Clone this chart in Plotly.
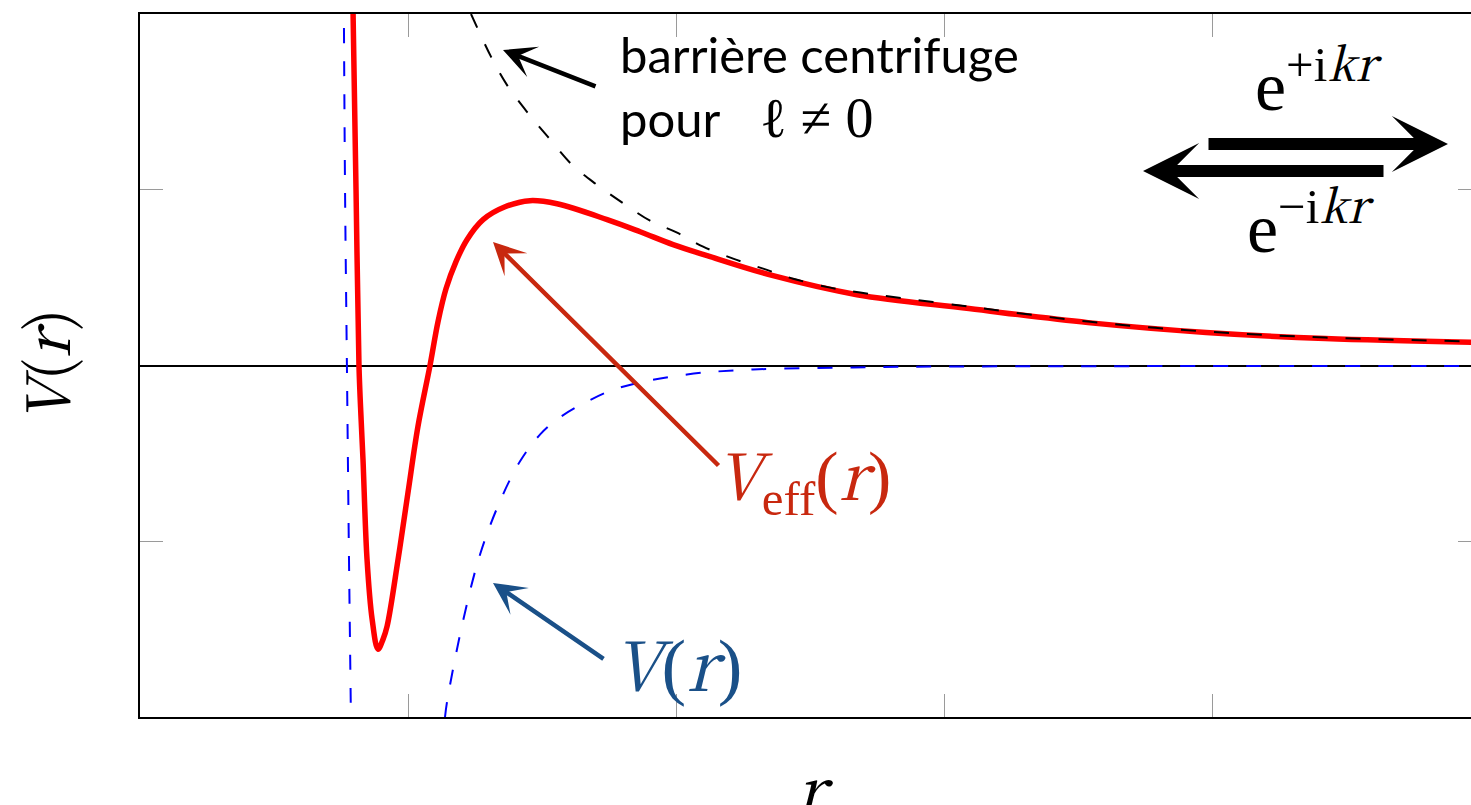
import plotly.graph_objects as go

# ---------------- data ----------------
# effective potential V_eff(r)  (red, solid)
veff_r = [0.795, 0.806, 0.817, 0.825, 0.832, 0.847, 0.866, 0.888, 0.907, 0.922,
          0.963, 1.000, 1.037, 1.082, 1.112, 1.142, 1.179, 1.220, 1.280, 1.362,
          1.455, 1.556, 1.743, 1.866, 1.989, 2.116, 2.362, 2.675, 3.093, 3.537,
          3.978, 4.422, 5.000]
veff_v = [2.000, 1.000, 0.000, -0.307, -0.534, -1.102, -1.443, -1.614, -1.557, -1.483,
          -1.102, -0.722, -0.347, 0.000, 0.250, 0.438, 0.591, 0.716, 0.830, 0.903,
          0.938, 0.920, 0.830, 0.761, 0.688, 0.625, 0.511, 0.403, 0.324, 0.244,
          0.188, 0.153, 0.131]

# centrifugal barrier (black, dashed)
cent_r = [1.235, 1.310, 1.369, 1.444, 1.522, 1.612, 1.705, 1.806, 1.903,
          2.004, 2.101, 2.213, 2.325, 2.437, 2.575, 2.687, 3.093, 3.537, 3.978,
          4.422, 5.000]
cent_v = [2.000, 1.756, 1.597, 1.443, 1.301, 1.142, 1.028, 0.920, 0.824,
          0.756, 0.676, 0.608, 0.551, 0.494, 0.443, 0.415, 0.335, 0.250, 0.193,
          0.159, 0.136]

# bare potential V(r) (blue, dashed) - two visible branches, the well is below the frame
v_r = [0.761, 0.765, 0.772, 0.779, 0.787, None,
       1.138, 1.146, 1.205, 1.269, 1.343, 1.418, 1.493, 1.567, 1.668, 1.791,
       2.041, 2.287, 2.660, 2.985, 5.000]
v_v = [1.920, 1.000, 0.000, -1.000, -2.000, None,
       -2.000, -1.909, -1.455, -1.074, -0.773, -0.545, -0.392, -0.295, -0.205, -0.125,
       -0.051, -0.023, -0.011, -0.006, -0.003]

x_ticks = [1, 2, 3, 4]
y_ticks = [-1, 1]
x_range = [0, 4.966]
y_range = [-2, 2]

# ---------------- figure ----------------
W, H = 1471, 805
ML, MT, MB, MR = 140, 14, 88, 0
PW, PH = W - ML - MR, H - MT - MB


def PX(px):
    return (px - ML) / PW


def PY(py):
    return (H - MB - py) / PH


SERIF = "Liberation Serif"
ITAL = "Noto Serif CJK SC"
SANS = "Lato"


def it(s, size):
    return ("<span style=\"font-family:%s;font-size:%dpx\"><i>%s</i></span>"
            % (ITAL, size, s))


fig = go.Figure()
fig.add_trace(go.Scatter(x=veff_r, y=veff_v, mode="lines",
                         line=dict(color="#ff0000", width=5.5, shape="spline", smoothing=1.0),
                         hoverinfo="skip", showlegend=False))
fig.add_trace(go.Scatter(x=v_r, y=v_v, mode="lines", connectgaps=False,
                         line=dict(color="#0000ff", width=2, dash="15px,18px",
                                   shape="spline", smoothing=1.0),
                         hoverinfo="skip", showlegend=False))
fig.add_trace(go.Scatter(x=cent_r, y=cent_v, mode="lines", yaxis="y2",
                         line=dict(color="#000000", width=2, dash="15px,18px",
                                   shape="spline", smoothing=1.0),
                         hoverinfo="skip", showlegend=False))

tick_common = dict(ticks="inside", ticklen=23, tickcolor="#9a9a9a", tickwidth=1,
                   showticklabels=False, showgrid=False)

fig.update_layout(
    width=W, height=H,
    margin=dict(l=ML, r=MR, t=MT, b=MB, pad=0),
    paper_bgcolor="white", plot_bgcolor="white",
    xaxis=dict(range=x_range, tickvals=x_ticks, showline=True, linecolor="black",
               linewidth=2, mirror="ticks", zeroline=False, **tick_common),
    yaxis=dict(range=y_range, tickvals=y_ticks, showline=True, linecolor="black",
               linewidth=2, mirror=False, zeroline=True, zerolinecolor="black",
               zerolinewidth=2, **tick_common),
    yaxis2=dict(range=y_range, tickvals=y_ticks, overlaying="y", side="right",
                showline=False, zeroline=False, ticks="inside", ticklen=13,
                tickcolor="#9a9a9a", tickwidth=1, showticklabels=False, showgrid=False),
)

anns = []


def arrow(head, tail, color, width, size):
    anns.append(dict(xref="paper", yref="paper", x=PX(head[0]), y=PY(head[1]),
                     ax=tail[0] - head[0], ay=tail[1] - head[1], text="",
                     showarrow=True, arrowhead=3, arrowsize=size, arrowwidth=width,
                     arrowcolor=color, standoff=0))


def label(px, py, text, size, color="black", family=SERIF, xanchor="left", angle=0,
          align="left"):
    anns.append(dict(xref="paper", yref="paper", x=PX(px), y=PY(py), text=text,
                     showarrow=False, xanchor=xanchor, yanchor="middle", textangle=angle,
                     align=align, font=dict(family=family, size=size, color=color)))


RED_T = "#c8280f"
BLUE_T = "#1a5088"

arrow((503, 50), (597, 87), "black", 4.5, 1.2)
arrow((493, 242), (720, 467), RED_T, 4.5, 1.2)
arrow((493, 583), (605, 660), BLUE_T, 4.5, 1.2)
arrow((1448, 144), (1207, 144), "black", 12, 0.78)
arrow((1143, 171), (1385, 171), "black", 12, 0.78)

label(618, 87,
      "barrière centrifuge<br>pour&nbsp;<span style=\"font-family:Liberation Serif;font-size:56px\">"
      "&nbsp;&nbsp;ℓ ≠ 0</span>",
      49, family=SANS)
label(714, 476, it("V", 64) + "<sub>eff</sub>(" + it("r", 64) + ")", 70, color=RED_T)
label(611, 661, it("V", 68) + "(" + it("r", 68) + ")", 74, color=BLUE_T)
label(1253, 77, "e<sup>+i" + it("kr", 46) + "</sup>", 70)
label(1245, 218, "e<sup>−i" + it("kr", 46) + "</sup>", 70)
label(44, 366, "<i>V</i>(<i>r</i>)", 60, family=ITAL, xanchor="center", angle=-90,
      align="center")
label(815, 786, "<i>r</i>", 64, family=ITAL, xanchor="center", align="center")

fig.update_layout(annotations=anns)
fig.write_html("out.html")
